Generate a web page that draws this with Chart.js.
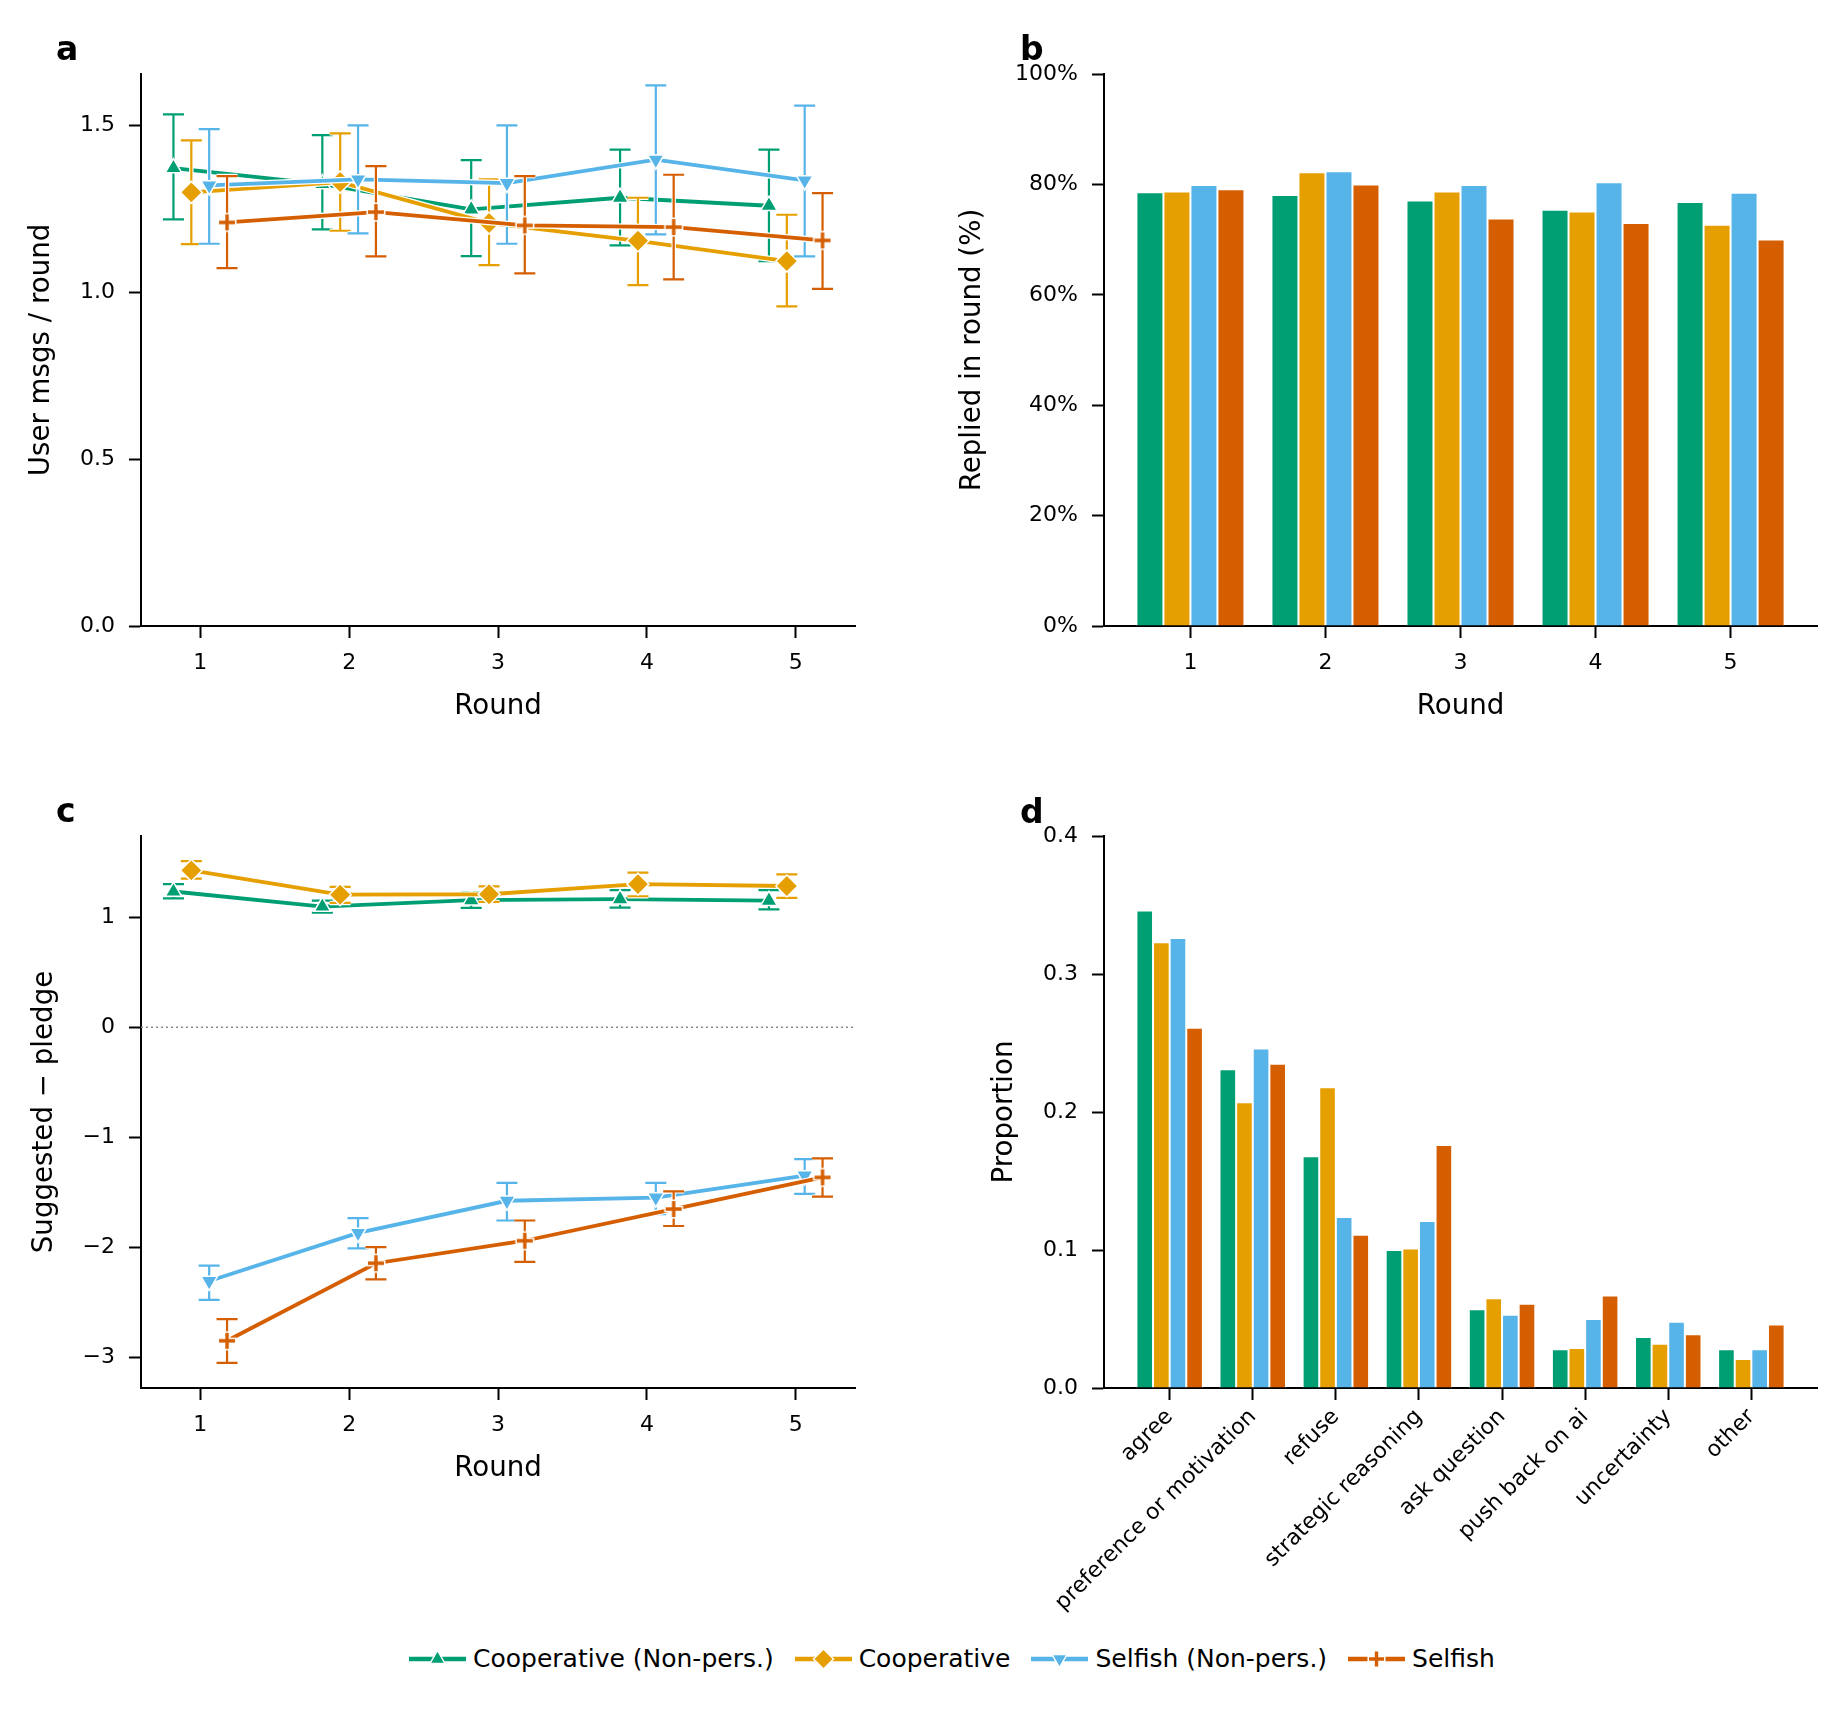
<!DOCTYPE html>
<html>
<head>
<meta charset="utf-8">
<script src="https://cdn.jsdelivr.net/npm/chart.js@4.4.1/dist/chart.umd.min.js"></script>
<style>
  body { margin: 0; background: #fff; width: 1847px; height: 1712px; position: relative; overflow: hidden; font-family: 'DejaVu Sans', sans-serif; color: #000; }
  canvas { position: absolute; }
  .lbl { position: absolute; font-weight: bold; font-size: 33px; line-height: 1; }
  #legend { position: absolute; left: 409px; top: 1644px; display: flex; align-items: center; font-size: 25px; white-space: nowrap; }
  .item { display: flex; align-items: center; margin-right: 21px; }
  .item svg { margin-right: 7px; }
</style>
</head>
<body>
<canvas id="chartA" width="923" height="736" style="left:0;top:0"></canvas>
<canvas id="chartB" width="924" height="736" style="left:923px;top:0"></canvas>
<canvas id="chartC" width="923" height="718" style="left:0;top:780px"></canvas>
<canvas id="chartD" width="924" height="850" style="left:923px;top:780px"></canvas>
<div class="lbl" style="left:56px;top:32px">a</div>
<div class="lbl" style="left:1020px;top:32px">b</div>
<div class="lbl" style="left:56px;top:794px">c</div>
<div class="lbl" style="left:1020px;top:795px">d</div>
<div id="legend"></div>

<script>
// ---- data ----
const rounds = [1, 2, 3, 4, 5];
const seriesNames = ['Cooperative (Non-pers.)', 'Cooperative', 'Selfish (Non-pers.)', 'Selfish'];

// a: user messages per round (mean, lower, upper)
const msgCoopNP = [1.373, 1.325, 1.249, 1.284, 1.260];
const msgCoopNPLo = [1.219, 1.189, 1.109, 1.141, 1.094];
const msgCoopNPHi = [1.534, 1.472, 1.397, 1.428, 1.428];
const msgCoop = [1.300, 1.331, 1.208, 1.155, 1.094];
const msgCoopLo = [1.145, 1.185, 1.082, 1.022, 0.958];
const msgCoopHi = [1.456, 1.477, 1.339, 1.284, 1.233];
const msgSelfNP = [1.321, 1.339, 1.328, 1.398, 1.336];
const msgSelfNPLo = [1.146, 1.177, 1.146, 1.174, 1.108];
const msgSelfNPHi = [1.490, 1.501, 1.501, 1.621, 1.560];
const msgSelf = [1.210, 1.241, 1.201, 1.196, 1.156];
const msgSelfLo = [1.073, 1.108, 1.057, 1.039, 1.011];
const msgSelfHi = [1.349, 1.379, 1.349, 1.353, 1.298];
const msgTicks = [0, 0.5, 1, 1.5];
const msgTickLabels = ['0.0', '0.5', '1.0', '1.5'];

// b: replied in round (%)
const repCoopNP = [78.6, 78.1, 77.1, 75.4, 76.8];
const repCoop = [78.7, 82.2, 78.7, 75.1, 72.7];
const repSelfNP = [79.9, 82.4, 79.9, 80.4, 78.5];
const repSelf = [79.1, 80.0, 73.8, 73.0, 70.0];
const repTicks = [0, 20, 40, 60, 80, 100];
const repTickLabels = ['0%', '20%', '40%', '60%', '80%', '100%'];

// c: suggested - pledge
const gapCoopNP = [1.233, 1.096, 1.154, 1.163, 1.150];
const gapCoopNPLo = [1.170, 1.040, 1.085, 1.087, 1.071];
const gapCoopNPHi = [1.300, 1.150, 1.222, 1.246, 1.246];
const gapCoop = [1.425, 1.204, 1.208, 1.300, 1.283];
const gapCoopLo = [1.350, 1.129, 1.138, 1.190, 1.175];
const gapCoopHi = [1.508, 1.275, 1.279, 1.404, 1.388];
const gapSelfNP = [-2.304, -1.867, -1.575, -1.546, -1.346];
const gapSelfNPLo = [-2.475, -2.008, -1.754, -1.696, -1.513];
const gapSelfNPHi = [-2.163, -1.733, -1.413, -1.413, -1.196];
const gapSelf = [-2.846, -2.142, -1.938, -1.650, -1.363];
const gapSelfLo = [-3.046, -2.288, -2.129, -1.804, -1.538];
const gapSelfHi = [-2.650, -1.996, -1.754, -1.490, -1.190];
const gapTicks = [-3, -2, -1, 0, 1];
const gapTickLabels = ['\u22123', '\u22122', '\u22121', '0', '1'];

// d: reply categories
const categories = ['agree', 'preference or motivation', 'refuse', 'strategic reasoning',
  'ask question', 'push back on ai', 'uncertainty', 'other'];
const catCoopNP = [0.346, 0.231, 0.168, 0.100, 0.057, 0.028, 0.037, 0.028];
const catCoop = [0.323, 0.207, 0.218, 0.101, 0.065, 0.029, 0.032, 0.021];
const catSelfNP = [0.326, 0.246, 0.124, 0.121, 0.053, 0.050, 0.048, 0.028];
const catSelf = [0.261, 0.235, 0.111, 0.176, 0.061, 0.067, 0.039, 0.046];
const catTicks = [0, 0.1, 0.2, 0.3, 0.4];
const catTickLabels = ['0.0', '0.1', '0.2', '0.3', '0.4'];

// ---- style ----
const colors = ['#009E73', '#E69F00', '#56B4E9', '#D55E00'];
const dodge = [-0.18, -0.06, 0.06, 0.18];

// plus marker with a white edge, drawn once and used as a point image
const plusMarker = document.createElement('canvas');
plusMarker.width = 24; plusMarker.height = 24;
(() => {
  const g = plusMarker.getContext('2d');
  g.lineCap = 'butt';
  g.strokeStyle = '#fff'; g.lineWidth = 6.5;
  g.beginPath(); g.moveTo(2.5, 12); g.lineTo(21.5, 12); g.moveTo(12, 2.5); g.lineTo(12, 21.5); g.stroke();
  g.strokeStyle = colors[3]; g.lineWidth = 3.4;
  g.beginPath(); g.moveTo(4, 12); g.lineTo(20, 12); g.moveTo(12, 4); g.lineTo(12, 20); g.stroke();
})();

const markers = ['triangle', 'rectRot', 'triangle', plusMarker];
const markerRadius = [9.5, 11, 9.5, 8];
const markerRot = [0, 0, 180, 0];

Chart.defaults.font.family = "'DejaVu Sans'";
Chart.defaults.color = '#000';

const tickFont = { family: "'DejaVu Sans'", size: 22 };
const titleFont = { family: "'DejaVu Sans'", size: 27.7 };

const axisStyle = () => ({
  grid: { display: true, drawOnChartArea: false, drawTicks: true, tickLength: 12, tickWidth: 2, tickColor: '#000', offset: false },
  border: { display: true, color: '#000', width: 2 }
});

const makeY = (min, max, vals, labels, width, title, titlePad) => ({
  type: 'linear', min, max,
  ...axisStyle(),
  ticks: { font: tickFont, color: '#000', padding: 14, callback: (v, i) => labels[i] },
  afterBuildTicks: s => { s.ticks = vals.map(v => ({ value: v })); },
  afterFit: s => { s.width = width; },
  title: { display: !!title, text: title, font: titleFont, color: '#000', padding: { top: titlePad, bottom: 0 } }
});

const makeX = (min, max, vals, labels, height, title, rotate) => ({
  type: 'linear', min, max, offset: false,
  ...axisStyle(),
  ticks: { font: tickFont, color: '#000', padding: rotate ? 4 : 12, autoSkip: false,
    minRotation: rotate || 0, maxRotation: rotate || 0, callback: (v, i) => labels[i] },
  afterBuildTicks: s => { s.ticks = vals.map(v => ({ value: v })); },
  afterFit: s => { s.height = height; },
  title: { display: !!title, text: title, font: titleFont, color: '#000', padding: { top: 0, bottom: 13 } }
});

// error bars (white-edged) and a white halo under each series line
const errorBars = {
  id: 'errorBars',
  beforeDatasetDraw(chart, args) {
    const ds = chart.data.datasets[args.index];
    if (!ds.errLo) return;
    const ctx = chart.ctx;
    const y = chart.scales.y;
    const pts = args.meta.data;
    ctx.save();
    const bars = () => {
      ctx.beginPath();
      pts.forEach((pt, i) => {
        const top = y.getPixelForValue(ds.errHi[i]);
        const bot = y.getPixelForValue(ds.errLo[i]);
        ctx.moveTo(pt.x, top); ctx.lineTo(pt.x, bot);
        ctx.moveTo(pt.x - 10.5, top); ctx.lineTo(pt.x + 10.5, top);
        ctx.moveTo(pt.x - 10.5, bot); ctx.lineTo(pt.x + 10.5, bot);
      });
      ctx.stroke();
    };
    ctx.strokeStyle = '#fff'; ctx.lineWidth = 4.4; bars();
    ctx.strokeStyle = ds.borderColor; ctx.lineWidth = 2.2; bars();
    ctx.strokeStyle = '#fff'; ctx.lineWidth = ds.borderWidth + 2.4; ctx.lineJoin = 'round';
    ctx.beginPath();
    pts.forEach((pt, i) => { if (i === 0) ctx.moveTo(pt.x, pt.y); else ctx.lineTo(pt.x, pt.y); });
    ctx.stroke();
    ctx.restore();
  }
};

const zeroLine = {
  id: 'zeroLine',
  beforeDatasetsDraw(chart) {
    const { ctx, chartArea, scales: { y } } = chart;
    const py = y.getPixelForValue(0);
    ctx.save();
    ctx.strokeStyle = '#8a8a8a';
    ctx.lineWidth = 1.6;
    ctx.setLineDash([2, 3]);
    ctx.beginPath();
    ctx.moveTo(chartArea.left, py);
    ctx.lineTo(chartArea.right, py);
    ctx.stroke();
    ctx.restore();
  }
};

const lineSets = (means, los, his) => means.map((vals, k) => ({
  label: seriesNames[k],
  data: rounds.map((r, i) => ({ x: r + dodge[k], y: vals[i] })),
  errLo: los[k], errHi: his[k],
  borderColor: colors[k], backgroundColor: colors[k],
  borderWidth: 3.8, tension: 0,
  pointStyle: markers[k], pointRadius: markerRadius[k], pointRotation: markerRot[k],
  pointBackgroundColor: colors[k],
  pointBorderColor: '#fff',
  pointBorderWidth: 1.5,
  order: 4 - k
}));

const barSets = (series) => series.map((vals, k) => ({
  label: seriesNames[k],
  data: vals.map((v, i) => ({ x: i, y: v })),
  backgroundColor: colors[k], borderColor: '#fff', borderWidth: 1,
  categoryPercentage: 0.8, barPercentage: 1.0
}));

const baseOptions = (padding) => ({
  responsive: false, animation: false, devicePixelRatio: 1, events: [],
  layout: { padding },
  plugins: { legend: { display: false }, tooltip: { enabled: false } }
});

// a
new Chart(document.getElementById('chartA'), {
  type: 'line',
  data: { datasets: lineSets(
    [msgCoopNP, msgCoop, msgSelfNP, msgSelf],
    [msgCoopNPLo, msgCoopLo, msgSelfNPLo, msgSelfLo],
    [msgCoopNPHi, msgCoopHi, msgSelfNPHi, msgSelfHi]) },
  options: { ...baseOptions({ top: 74, right: 68, bottom: 0, left: 0 }),
    scales: {
      x: makeX(0.602, 5.398, rounds, rounds.map(String), 110, 'Round'),
      y: makeY(0, 1.655, msgTicks, msgTickLabels, 141, 'User msgs / round', 25)
    } },
  plugins: [errorBars]
});

// b
new Chart(document.getElementById('chartB'), {
  type: 'bar',
  data: { datasets: barSets([repCoopNP, repCoop, repSelfNP, repSelf]) },
  options: { ...baseOptions({ top: 74, right: 30, bottom: 0, left: 0 }),
    scales: {
      x: makeX(-0.64, 4.64, rounds.map((r, i) => i), rounds.map(String), 110, 'Round'),
      y: makeY(0, 100, repTicks, repTickLabels, 181, 'Replied in round (%)', 33)
    } }
});

// c
new Chart(document.getElementById('chartC'), {
  type: 'line',
  data: { datasets: lineSets(
    [gapCoopNP, gapCoop, gapSelfNP, gapSelf],
    [gapCoopNPLo, gapCoopLo, gapSelfNPLo, gapSelfLo],
    [gapCoopNPHi, gapCoopHi, gapSelfNPHi, gapSelfHi]) },
  options: { ...baseOptions({ top: 56, right: 68, bottom: 0, left: 0 }),
    scales: {
      x: makeX(0.602, 5.398, rounds, rounds.map(String), 110, 'Round'),
      y: makeY(-3.275, 1.737, gapTicks, gapTickLabels, 141, 'Suggested \u2212 pledge', 28)
    } },
  plugins: [zeroLine, errorBars]
});

// d
new Chart(document.getElementById('chartD'), {
  type: 'bar',
  data: { datasets: barSets([catCoopNP, catCoop, catSelfNP, catSelf]) },
  options: { ...baseOptions({ top: 56, right: 30, bottom: 0, left: 0 }),
    scales: {
      x: makeX(-0.79, 7.79, categories.map((c, i) => i), categories, 242, '', 45),
      y: makeY(0, 0.4, catTicks, catTickLabels, 181, 'Proportion', 65)
    } }
});

// legend
const markerSvg = (k) => {
  const c = colors[k];
  if (k === 0) return `<polygon points="28.5,2.5 36,15.5 21,15.5" fill="${c}" stroke="#fff" stroke-width="1.5"/>`;
  if (k === 1) return `<polygon points="28.5,1 38.5,11 28.5,21 18.5,11" fill="${c}" stroke="#fff" stroke-width="1.5"/>`;
  if (k === 2) return `<polygon points="28.5,19.5 36,6.5 21,6.5" fill="${c}" stroke="#fff" stroke-width="1.5"/>`;
  return `<path d="M19.5 11 H37.5 M28.5 2 V20" stroke="#fff" stroke-width="6.5"/><path d="M21 11 H36 M28.5 3.5 V18.5" stroke="${c}" stroke-width="3.4"/>`;
};
let html = '';
seriesNames.forEach((name, k) => {
  html += `<div class="item"><svg width="57" height="22"><line x1="0" y1="11" x2="57" y2="11" stroke="${colors[k]}" stroke-width="4.5"/>${markerSvg(k)}</svg><span>${name}</span></div>`;
});
document.getElementById('legend').innerHTML = html;
</script>
</body>
</html>
